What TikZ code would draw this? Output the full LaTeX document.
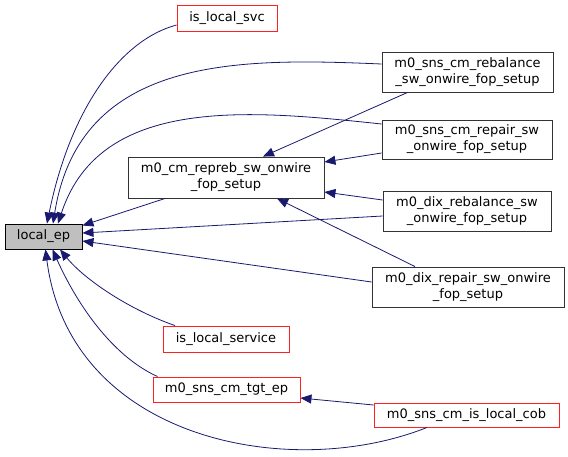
\documentclass[tikz,border=0pt]{standalone}
\usepackage{fontspec}
\setmainfont{DejaVu Sans}
\usepackage{xcolor}
\usetikzlibrary{arrows.meta}

\definecolor{edgeblue}{HTML}{191970}
\definecolor{boxgray}{HTML}{BFBFBF}
\definecolor{boxred}{HTML}{FF2020}
\definecolor{boxline}{HTML}{333333}

\begin{document}
\begin{tikzpicture}[x=1pt, y=-1pt, >={Triangle[length=11pt, width=9pt]},
    font=\fontsize{13}{16}\selectfont,
    fn/.style={draw=boxline, line width=0.9pt, rectangle, inner sep=0pt, align=center},
    fnred/.style={fn, draw=boxred},
    edge/.style={->, draw=edgeblue, line width=0.8pt}]
    \useasboundingbox (0,0) rectangle (568,456);

    % the function and its callers
    \node[fn, draw=black, fill=boxgray, minimum width=77pt, minimum height=25pt] (lep) at (43.5,236.5) {local\_ep};
    \node[fnred, minimum width=100pt, minimum height=26pt] (isvc) at (227,18) {is\_local\_svc};
    \node[fn, minimum width=196pt, minimum height=41pt] (repreb) at (226,177.5) {m0\_cm\_repreb\_sw\_onwire\\\_fop\_setup};
    \node[fn, minimum width=171pt, minimum height=40pt] (snsreb) at (467.5,72) {m0\_sns\_cm\_rebalance\\\_sw\_onwire\_fop\_setup};
    \node[fn, minimum width=170pt, minimum height=39pt] (snsrep) at (467,139.5) {m0\_sns\_cm\_repair\_sw\\\_onwire\_fop\_setup};
    \node[fn, minimum width=168pt, minimum height=40pt] (dixreb) at (467,211) {m0\_dix\_rebalance\_sw\\\_onwire\_fop\_setup};
    \node[fn, minimum width=192pt, minimum height=40pt] (dixrep) at (468,287) {m0\_dix\_repair\_sw\_onwire\\\_fop\_setup};
    \node[fnred, minimum width=126pt, minimum height=26pt] (islsvc) at (226,339) {is\_local\_service};
    \node[fnred, minimum width=147pt, minimum height=25pt] (tgtep) at (226.5,389.5) {m0\_sns\_cm\_tgt\_ep};
    \node[fnred, minimum width=185pt, minimum height=24pt] (cob) at (466.5,415) {m0\_sns\_cm\_is\_local\_cob};

    % calls from above
    \draw[edge] ([yshift=-7pt]isvc.west) .. controls (120,40) and (70,110) .. ([xshift=3.5pt]lep.north);
    \draw[edge] ([yshift=8pt]snsreb.west) .. controls (240,58) and (80,55) .. ([xshift=9.5pt]lep.north);
    \draw[edge] ([yshift=15.5pt]snsrep.west) .. controls (250,110) and (100,95) .. ([xshift=14.5pt]lep.north);

    % calls of the repreb setup
    \draw[edge] ([xshift=-60pt]snsreb.south) -- ([xshift=37pt]repreb.north);
    \draw[edge] ([yshift=-13.5pt]snsrep.west) -- ([yshift=15.5pt]repreb.east);
    \draw[edge] ([yshift=11pt]dixreb.west) -- ([yshift=-14.5pt]repreb.east);
    \draw[edge] ([xshift=-53pt]dixrep.north) -- ([xshift=51pt]repreb.south);

    % straight calls into local_ep
    \draw[edge] ([xshift=-61pt]repreb.south) -- ([yshift=11pt]lep.east);
    \draw[edge] ([yshift=-5pt]dixreb.west) -- ([yshift=3.5pt]lep.east);
    \draw[edge] ([yshift=5pt]dixrep.west) -- ([yshift=-4.5pt]lep.east);

    % calls from below
    \draw[edge] ([xshift=-51pt]islsvc.north) .. controls (130,310) and (85,280) .. ([xshift=16.5pt]lep.south);
    \draw[edge] ([xshift=5pt]tgtep.north west) .. controls (110,355) and (75,300) .. ([xshift=9pt]lep.south);
    \draw[edge] ([xshift=-39.5pt]cob.south) .. controls (290,482) and (70,440) .. ([xshift=2pt]lep.south);
    \draw[edge] ([yshift=10pt]cob.west) -- ([yshift=-8.5pt]tgtep.east);
\end{tikzpicture}
\end{document}
